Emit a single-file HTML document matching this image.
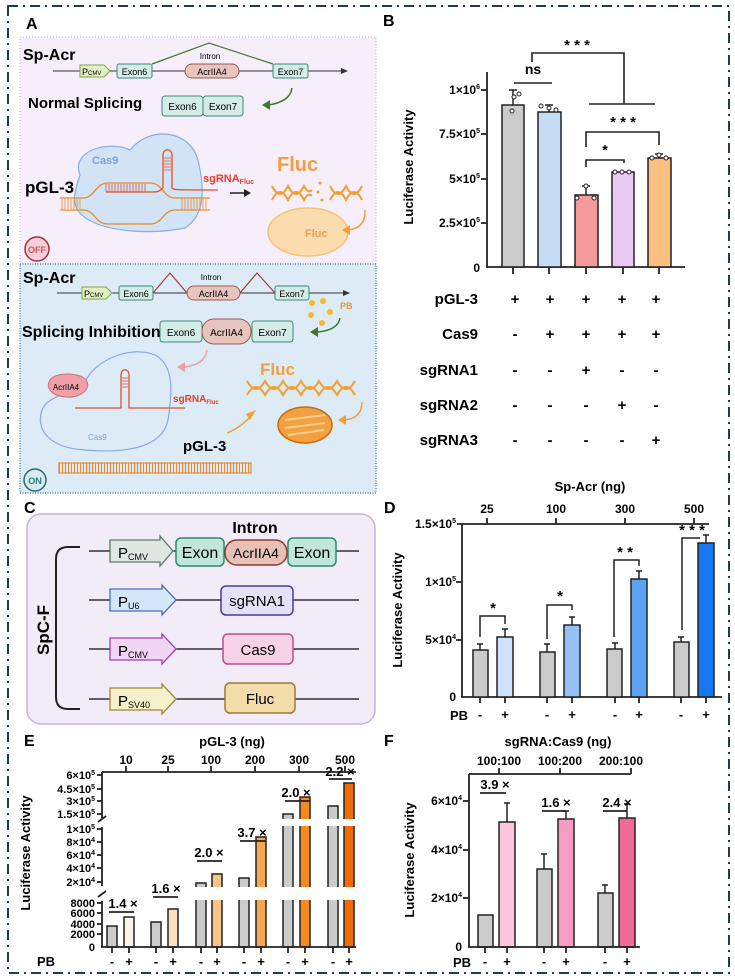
<!DOCTYPE html>
<html><head><meta charset="utf-8"><style>
body{margin:0;background:#fff}
svg{display:block;font-family:"Liberation Sans",sans-serif}
.b{font-weight:bold}
</style></head><body>
<svg width="735" height="978" viewBox="0 0 735 978" xmlns="http://www.w3.org/2000/svg">
<!-- frame -->
<rect x="8" y="6" width="721" height="967" fill="none" stroke="#1f3a5f" stroke-width="2" stroke-dasharray="10 5 2 5"/>

<!-- ===== Panel A ===== -->
<text x="26" y="29" class="b" font-size="16">A</text>
<rect x="20" y="37" width="356" height="229" fill="#f6eefa" stroke="#c9a8d8" stroke-dasharray="1 2"/>
<rect x="20" y="264" width="356" height="229" fill="#ddebf7" stroke="#3a6ea5" stroke-dasharray="1 1.5" stroke-width="1.2"/>

<text x="23" y="60" class="b" font-size="16">Sp-Acr</text>
<line x1="53" y1="71" x2="344" y2="71" stroke="#333" stroke-width="1"/>
<polygon points="348,71 341,68 341,74" fill="#333"/>
<polygon points="80,65 104,65 110,71 104,77 80,77" fill="#e2efc4" stroke="#7aa64a"/>
<text x="82" y="75" font-size="9">P<tspan font-size="6">CMV</tspan></text>
<rect x="117" y="64" width="35" height="14" rx="2" fill="#d4ece6" stroke="#3a8a7a"/><text x="134.5" y="75" font-size="9" text-anchor="middle">Exon6</text>
<rect x="185" y="64" width="54" height="14" rx="7" fill="#e8c4bf" stroke="#9a5a55"/><text x="212" y="75" font-size="9" text-anchor="middle">AcrIIA4</text>
<rect x="273" y="64" width="35" height="14" rx="2" fill="#d4ece6" stroke="#3a8a7a"/><text x="290.5" y="75" font-size="9" text-anchor="middle">Exon7</text>
<polyline points="152,64 209,43 273,64" fill="none" stroke="#4a7a2a" stroke-width="1.2"/>
<text x="210" y="59" font-size="8" text-anchor="middle">Intron</text>
<text x="28" y="108" class="b" font-size="15">Normal Splicing</text>
<rect x="162" y="96" width="41" height="20" rx="3" fill="#d4ece6" stroke="#3a8a7a"/><text x="182.5" y="110" font-size="10" text-anchor="middle">Exon6</text>
<rect x="203" y="96" width="40" height="20" rx="3" fill="#d4ece6" stroke="#3a8a7a"/><text x="223" y="110" font-size="10" text-anchor="middle">Exon7</text>
<path d="M292,88 Q290,102 268,105" fill="none" stroke="#3a7a2a" stroke-width="1.5"/><polygon points="262,105 270,100 270,110" fill="#3a7a2a"/>

<path d="M80,175 C70,150 110,140 130,150 C150,125 190,130 198,160 C205,190 205,215 185,228 C150,235 100,232 82,215 C70,205 75,190 80,175Z" fill="#cfe2f5" stroke="#7fa7d8" stroke-width="1.2" opacity="0.9"/>
<text x="92" y="164" font-size="11" fill="#7fa0d0" class="b">Cas9</text>
<text x="25" y="193" class="b" font-size="17">pGL-3</text>
<g stroke="#e8892a" stroke-width="1.3" fill="none">
<path d="M60,198 L83,198 C95,198 95,183 108,183 L150,183 C163,183 163,198 175,198 L210,198"/>
<path d="M60,210 L83,210 C95,210 95,224 108,224 L150,224 C163,224 163,210 175,210 L210,210"/>
</g>
<path d="M62,199 v10 M65,199 v10 M68,199 v10 M71,199 v10 M74,199 v10 M77,199 v10 M80,199 v10 M182,199 v10 M185,199 v10 M188,199 v10 M191,199 v10 M194,199 v10 M197,199 v10 M200,199 v10 M203,199 v10 M206,199 v10" stroke="#e8892a" stroke-width="0.8"/>
<path d="M106,184 v8 M109,184 v8 M112,184 v8 M115,184 v8 M118,184 v8 M121,184 v8 M124,184 v8 M127,184 v8 M130,184 v8 M133,184 v8 M136,184 v8 M139,184 v8 M142,184 v8 M145,184 v8" stroke="#e0502a" stroke-width="0.8"/>
<path d="M106,192 L152,192 C160,192 160,190 163,188 L163,155 C163,148 172,148 172,155 L172,188 C174,190 176,190 218,190" fill="none" stroke="#e0502a" stroke-width="1.3"/>
<path d="M164,158 h7 M164,161 h7 M164,164 h7 M164,167 h7 M164,170 h7" stroke="#e0502a" stroke-width="0.8"/>
<text x="203" y="182" font-size="11" class="b" fill="#e0402a">sgRNA<tspan font-size="7" dy="2">Fluc</tspan></text>
<line x1="230" y1="193" x2="246" y2="193" stroke="#222" stroke-width="1.5"/><polygon points="251,193 244,189 244,197" fill="#222"/>
<text x="277" y="171" font-size="20" class="b" fill="#f0a040">Fluc</text>
<g stroke="#f0a030" stroke-width="2" fill="none">
<path d="M272,186 q8,16 16,0 q8,16 16,0 q4,8 8,4"/><path d="M272,200 q8,-16 16,0 q8,-16 16,0 q4,-8 8,-4"/>
<path d="M330,186 q8,16 16,0 q8,16 16,0"/><path d="M330,200 q8,-16 16,0 q8,-16 16,0"/>
</g>
<circle cx="320" cy="183" r="1.5" fill="#e0a030"/><circle cx="318" cy="192" r="1.5" fill="#e0a030"/><circle cx="322" cy="200" r="1.5" fill="#e0a030"/>
<ellipse cx="308" cy="232" rx="40" ry="24" fill="#fbdcae" stroke="#f5c27a" stroke-width="1.5"/>
<text x="305" y="237" font-size="11" class="b" fill="#e8a050">Fluc</text>
<path d="M365,210 Q366,228 348,230" fill="none" stroke="#f0a030" stroke-width="1.5"/><polygon points="342,230 350,225 350,235" fill="#f0a030"/>
<circle cx="37" cy="249" r="12" fill="#f5d0d8" stroke="#a03040" stroke-width="1.5"/><text x="37" y="253" font-size="9" text-anchor="middle" fill="#d05060" class="b">OFF</text>

<text x="23" y="283" class="b" font-size="16">Sp-Acr</text>
<line x1="57" y1="293" x2="346" y2="293" stroke="#333"/><polygon points="350,293 343,290 343,296" fill="#333"/>
<polygon points="82,287 106,287 112,293 106,299 82,299" fill="#e2efc4" stroke="#7aa64a"/>
<text x="84" y="297" font-size="9">P<tspan font-size="6">CMV</tspan></text>
<rect x="119" y="286" width="34" height="14" rx="2" fill="#d4ece6" stroke="#3a8a7a"/><text x="136" y="297" font-size="9" text-anchor="middle">Exon6</text>
<rect x="187" y="286" width="53" height="14" rx="7" fill="#e8c4bf" stroke="#9a5a55"/><text x="213.5" y="297" font-size="9" text-anchor="middle">AcrIIA4</text>
<rect x="275" y="286" width="34" height="14" rx="2" fill="#d4ece6" stroke="#3a8a7a"/><text x="292" y="297" font-size="9" text-anchor="middle">Exon7</text>
<polyline points="153,293 170,273 187,293" fill="none" stroke="#a03a3a" stroke-width="1.2"/>
<polyline points="240,293 257,273 275,293" fill="none" stroke="#a03a3a" stroke-width="1.2"/>
<text x="211" y="280" font-size="8" text-anchor="middle">Intron</text>
<g fill="#f7b82a"><circle cx="312" cy="303" r="3"/><circle cx="323" cy="301" r="3"/><circle cx="311" cy="315" r="3"/><circle cx="330" cy="312" r="3"/><circle cx="322" cy="323" r="3"/></g>
<text x="340" y="309" font-size="9" class="b" fill="#f0902a">PB</text>
<text x="22" y="337" class="b" font-size="16">Splicing Inhibition</text>
<rect x="160" y="321" width="42" height="21" rx="3" fill="#d4ece6" stroke="#3a8a7a"/><text x="181" y="336" font-size="10" text-anchor="middle">Exon6</text>
<rect x="202" y="319" width="49" height="25" rx="12" fill="#e8c4bf" stroke="#9a5a55"/><text x="226.5" y="336" font-size="10" text-anchor="middle">AcrIIA4</text>
<rect x="252" y="321" width="41" height="21" rx="3" fill="#d4ece6" stroke="#3a8a7a"/><text x="272.5" y="336" font-size="10" text-anchor="middle">Exon7</text>
<path d="M340,318 Q338,330 318,332" fill="none" stroke="#3a7a2a" stroke-width="1.5"/><polygon points="310,332 318,327 318,337" fill="#3a7a2a"/>
<path d="M207,350 Q205,365 184,367" fill="none" stroke="#f0a0a0" stroke-width="1.5"/><polygon points="177,367 185,362 185,372" fill="#f0a0a0"/>
<path d="M85,382 C95,360 130,345 155,355 C175,365 172,395 168,420 C162,450 120,453 85,450 C50,448 35,430 42,410 C48,395 70,395 85,382Z" fill="none" stroke="#8aa8e0" stroke-width="1.2"/>
<text x="88" y="440" font-size="8" fill="#7fa0d0">Cas9</text>
<path d="M50,380 C55,372 80,372 86,380 C92,388 82,398 66,397 C52,396 45,388 50,380Z" fill="#f0a0a8" stroke="#d07078"/>
<text x="66" y="390" font-size="8" text-anchor="middle">AcrIIA4</text>
<path d="M75,408 L121,408 L121,375 C121,368 129,368 129,375 L129,408 L185,408" fill="none" stroke="#e0502a" stroke-width="1.3"/>
<path d="M122,378 h6 M122,381 h6 M122,384 h6 M122,387 h6" stroke="#e0502a" stroke-width="0.8"/>
<text x="173" y="402" font-size="10" class="b" fill="#e0402a">sgRNA<tspan font-size="6" dy="2">Fluc</tspan></text>
<text x="260" y="375" font-size="17" class="b" fill="#f0a040">Fluc</text>
<g stroke="#f0a030" stroke-width="2" fill="none">
<path d="M247,381 q9,16 18,0 q9,16 18,0 q9,16 18,0 q9,16 18,0 q9,16 18,0 q9,16 18,0"/>
<path d="M247,395 q9,-16 18,0 q9,-16 18,0 q9,-16 18,0 q9,-16 18,0 q9,-16 18,0 q9,-16 18,0"/>
</g>
<ellipse cx="305" cy="425" rx="27" ry="18" fill="#f2a040" stroke="#c86a10" stroke-width="1.5"/>
<path d="M285,420 l40,-5 M285,428 l40,-5 M288,435 l36,-5" stroke="#fbd08a" stroke-width="2"/>
<path d="M227,433 Q240,428 252,415" fill="none" stroke="#f0a030" stroke-width="1.5"/><polygon points="256,410 250,420 246,414" fill="#f0a030"/>
<path d="M362,402 Q362,418 345,420" fill="none" stroke="#f0a030" stroke-width="1.5"/><polygon points="338,420 346,415 346,425" fill="#f0a030"/>
<text x="183" y="451" class="b" font-size="15">pGL-3</text>
<rect x="59" y="463" width="192" height="10" fill="none" stroke="#e8892a" stroke-width="1.2"/>
<path d="M59,468 H251" stroke="#e8892a" stroke-width="9" stroke-dasharray="1 2" fill="none"/>
<circle cx="35" cy="480" r="11" fill="#d8ecf0" stroke="#2a6a70" stroke-width="1.5"/><text x="35" y="484" font-size="9" text-anchor="middle" fill="#2a7a80" class="b">ON</text>

<!-- ===== Panel B ===== -->
<text x="383" y="26" class="b" font-size="16">B</text>
<text transform="translate(413,167) rotate(-90)" text-anchor="middle" class="b" font-size="13">Luciferase Activity</text>
<g stroke="#222" stroke-width="1.8">
<line x1="487" y1="72" x2="487" y2="267"/><line x1="486" y1="267" x2="685" y2="267"/>
<line x1="481" y1="90" x2="487" y2="90"/><line x1="481" y1="134" x2="487" y2="134"/><line x1="481" y1="179" x2="487" y2="179"/><line x1="481" y1="223" x2="487" y2="223"/>
<line x1="513" y1="267" x2="513" y2="274"/><line x1="549" y1="267" x2="549" y2="274"/><line x1="586" y1="267" x2="586" y2="274"/><line x1="623" y1="267" x2="623" y2="274"/><line x1="659" y1="267" x2="659" y2="274"/>
</g>
<g class="b" font-size="12" text-anchor="end">
<text x="480" y="94">1×10<tspan font-size="7" dy="-5">6</tspan></text>
<text x="480" y="138">7.5×10<tspan font-size="7" dy="-5">5</tspan></text>
<text x="480" y="183">5×10<tspan font-size="7" dy="-5">5</tspan></text>
<text x="480" y="227">2.5×10<tspan font-size="7" dy="-5">5</tspan></text>
<text x="480" y="272">0</text>
</g>
<g stroke="#222" stroke-width="1.5">
<rect x="502" y="105" width="22" height="162" fill="#cbcbcb"/>
<rect x="538" y="112" width="23" height="155" fill="#c4dcf5"/>
<rect x="575" y="195" width="23" height="72" fill="#f59a9a"/>
<rect x="612" y="172" width="22" height="95" fill="#ecc8f5"/>
<rect x="648" y="158" width="23" height="109" fill="#fbc080"/>
<path d="M513,105 V90 M509,90 H517 M549,112 V105 M545,105 H553 M586,195 V186 M582,186 H590 M623,172 V171 M659,158 V154 M655,154 H663" fill="none"/>
</g>
<g fill="#fff" stroke="#222" stroke-width="1">
<circle cx="512" cy="111" r="2"/><circle cx="514" cy="97" r="2"/><circle cx="519" cy="94" r="2"/>
<circle cx="541" cy="106" r="2"/><circle cx="549" cy="108" r="2"/><circle cx="556" cy="110" r="2"/>
<circle cx="577" cy="198" r="2"/><circle cx="586" cy="186" r="2"/><circle cx="594" cy="198" r="2"/>
<circle cx="615" cy="172" r="2"/><circle cx="622" cy="172" r="2"/><circle cx="629" cy="172" r="2"/>
<circle cx="652" cy="158" r="2"/><circle cx="659" cy="155" r="2"/><circle cx="666" cy="158" r="2"/>
</g>
<g stroke="#222" stroke-width="1.6" fill="none">
<line x1="514" y1="83" x2="552" y2="83"/>
<path d="M532,62 V53 H624 V104"/><line x1="589" y1="104" x2="655" y2="104"/>
<path d="M586,147 V132 H659 V145"/>
<path d="M586,167 V160 H624 V163"/>
</g>
<text x="533" y="74" class="b" font-size="14" text-anchor="middle">ns</text>
<text x="577" y="50" class="b" font-size="15" text-anchor="middle">* * *</text>
<text x="623" y="127" class="b" font-size="15" text-anchor="middle">* * *</text>
<text x="605" y="155" class="b" font-size="15" text-anchor="middle">*</text>
<g class="b" font-size="15">
<text x="478" y="304" text-anchor="end">pGL-3</text><text x="478" y="339" text-anchor="end">Cas9</text><text x="478" y="375" text-anchor="end">sgRNA1</text><text x="478" y="410" text-anchor="end">sgRNA2</text><text x="478" y="445" text-anchor="end">sgRNA3</text>
</g>
<g class="b" font-size="15" text-anchor="middle">
<text x="515" y="304">+</text><text x="550" y="304">+</text><text x="586" y="304">+</text><text x="622" y="304">+</text><text x="656" y="304">+</text>
<text x="515" y="339">-</text><text x="550" y="339">+</text><text x="586" y="339">+</text><text x="622" y="339">+</text><text x="656" y="339">+</text>
<text x="515" y="375">-</text><text x="550" y="375">-</text><text x="586" y="375">+</text><text x="622" y="375">-</text><text x="656" y="375">-</text>
<text x="515" y="410">-</text><text x="550" y="410">-</text><text x="586" y="410">-</text><text x="622" y="410">+</text><text x="656" y="410">-</text>
<text x="515" y="445">-</text><text x="550" y="445">-</text><text x="586" y="445">-</text><text x="622" y="445">-</text><text x="656" y="445">+</text>
</g>

<!-- ===== Panel C ===== -->
<text x="24" y="513" class="b" font-size="16">C</text>
<rect x="27" y="514" width="348" height="210" rx="14" fill="#f1ecf8" stroke="#c2b4e0" stroke-width="1.5"/>
<path d="M80,547 H68 Q56,547 56,559 V697 Q56,709 68,709 H80" fill="none" stroke="#222" stroke-width="2"/>
<text transform="translate(49,630) rotate(-90)" text-anchor="middle" class="b" font-size="17">SpC-F</text>
<g stroke="#333" stroke-width="1.5"><line x1="89" y1="551" x2="359" y2="551"/><line x1="89" y1="600" x2="359" y2="600"/><line x1="89" y1="649" x2="359" y2="649"/><line x1="89" y1="699" x2="359" y2="699"/></g>
<text x="255" y="533" class="b" font-size="16" text-anchor="middle">Intron</text>
<polygon points="110,540 160,540 160,536 173,551 160,566 160,562 110,562" fill="#dfe9e2" stroke="#5a7a68" stroke-width="1.3"/>
<text x="118" y="558" font-size="15">P<tspan font-size="9" dy="2">CMV</tspan></text>
<rect x="176" y="538" width="48" height="28" rx="5" fill="#bfe6d8" stroke="#2e8a70" stroke-width="1.5"/><text x="200" y="558" font-size="16" text-anchor="middle">Exon</text>
<rect x="225" y="540" width="62" height="25" rx="12" fill="#e8c0b6" stroke="#8a3a30" stroke-width="1.5"/><text x="256" y="558" font-size="14" text-anchor="middle">AcrIIA4</text>
<rect x="288" y="538" width="48" height="28" rx="5" fill="#bfe6d8" stroke="#2e8a70" stroke-width="1.5"/><text x="312" y="558" font-size="16" text-anchor="middle">Exon</text>
<polygon points="110,589 162,589 162,585 176,600 162,615 162,611 110,611" fill="#d6e6fa" stroke="#4a70b8" stroke-width="1.3"/>
<text x="118" y="607" font-size="15">P<tspan font-size="9" dy="2">U6</tspan></text>
<rect x="221" y="586" width="72" height="29" rx="5" fill="#e4e0f6" stroke="#4a3a9a" stroke-width="1.5"/><text x="257" y="606" font-size="15" text-anchor="middle">sgRNA1</text>
<polygon points="110,638 162,638 162,634 176,649 162,664 162,660 110,660" fill="#f0d6f4" stroke="#a040b0" stroke-width="1.3"/>
<text x="118" y="656" font-size="15">P<tspan font-size="9" dy="2">CMV</tspan></text>
<rect x="223" y="634" width="70" height="30" rx="5" fill="#f7d2e6" stroke="#c04a88" stroke-width="1.5"/><text x="258" y="655" font-size="15" text-anchor="middle">Cas9</text>
<polygon points="110,688 162,688 162,684 176,699 162,714 162,710 110,710" fill="#f6f0cc" stroke="#9a8a2a" stroke-width="1.3"/>
<text x="118" y="706" font-size="15">P<tspan font-size="9" dy="2">SV40</tspan></text>
<rect x="225" y="683" width="70" height="30" rx="5" fill="#f2dcaa" stroke="#a07a30" stroke-width="1.5"/><text x="260" y="704" font-size="15" text-anchor="middle">Fluc</text>

<!-- ===== Panel D ===== -->
<text x="384" y="513" class="b" font-size="16">D</text>
<text x="590" y="491" class="b" font-size="13" text-anchor="middle">Sp-Acr (ng)</text>
<g class="b" font-size="12" text-anchor="middle"><text x="487" y="513">25</text><text x="556" y="513">100</text><text x="625" y="513">300</text><text x="694" y="513">500</text></g>
<text transform="translate(402,610) rotate(-90)" text-anchor="middle" class="b" font-size="13">Luciferase Activity</text>
<g stroke="#222" stroke-width="1.8">
<line x1="462" y1="524" x2="462" y2="697"/><line x1="457" y1="524" x2="709" y2="524"/><line x1="461" y1="697" x2="722" y2="697"/>
<line x1="487" y1="518" x2="487" y2="524"/><line x1="556" y1="518" x2="556" y2="524"/><line x1="625" y1="518" x2="625" y2="524"/><line x1="694" y1="518" x2="694" y2="524"/>
<line x1="456" y1="582" x2="462" y2="582"/><line x1="456" y1="640" x2="462" y2="640"/>
<line x1="480" y1="697" x2="480" y2="703"/><line x1="505" y1="697" x2="505" y2="703"/><line x1="547" y1="697" x2="547" y2="703"/><line x1="572" y1="697" x2="572" y2="703"/><line x1="615" y1="697" x2="615" y2="703"/><line x1="639" y1="697" x2="639" y2="703"/><line x1="681" y1="697" x2="681" y2="703"/><line x1="706" y1="697" x2="706" y2="703"/>
</g>
<g class="b" font-size="12" text-anchor="end">
<text x="456" y="528">1.5×10<tspan font-size="7" dy="-5">5</tspan></text>
<text x="456" y="586">1×10<tspan font-size="7" dy="-5">5</tspan></text>
<text x="456" y="644">5×10<tspan font-size="7" dy="-5">4</tspan></text>
<text x="456" y="701">0</text>
</g>
<g stroke="#222" stroke-width="1.5">
<rect x="473" y="650" width="15" height="47" fill="#cbcbcb"/><rect x="497" y="637" width="16" height="60" fill="#cfe2fb"/>
<rect x="540" y="652" width="15" height="45" fill="#cbcbcb"/><rect x="564" y="625" width="16" height="72" fill="#94c2f7"/>
<rect x="607" y="649" width="15" height="48" fill="#cbcbcb"/><rect x="631" y="579" width="16" height="118" fill="#5aa2f2"/>
<rect x="674" y="642" width="15" height="55" fill="#cbcbcb"/><rect x="698" y="543" width="16" height="154" fill="#1479f0"/>
<path d="M480,650 V644 M477,644 H483 M505,637 V629 M502,629 H508 M547,652 V644 M544,644 H550 M572,625 V617 M569,617 H575 M615,649 V643 M612,643 H618 M639,579 V571 M636,571 H642 M681,642 V637 M678,637 H684 M706,543 V535 M703,535 H709" fill="none"/>
<path d="M480,637 V616 H505 V624" fill="none"/>
<path d="M547,639 V605 H572 V610" fill="none"/>
<path d="M614,637 V560 H639 V566" fill="none"/>
<path d="M682,630 V538 H700" fill="none"/>
</g>
<g class="b" font-size="15" text-anchor="middle"><text x="493" y="613">*</text><text x="560" y="601">*</text><text x="625" y="557">* *</text><text x="692" y="535">* * *</text></g>
<g class="b" font-size="13" text-anchor="middle"><text x="459" y="720">PB</text><text x="480" y="719">-</text><text x="505" y="719">+</text><text x="547" y="719">-</text><text x="572" y="719">+</text><text x="615" y="719">-</text><text x="639" y="719">+</text><text x="681" y="719">-</text><text x="706" y="719">+</text></g>

<!-- ===== Panel E ===== -->
<text x="24" y="746" class="b" font-size="16">E</text>
<text x="232" y="746" class="b" font-size="13" text-anchor="middle">pGL-3 (ng)</text>
<g class="b" font-size="12" text-anchor="middle"><text x="126" y="764">10</text><text x="168" y="764">25</text><text x="211" y="764">100</text><text x="255" y="764">200</text><text x="299" y="764">300</text><text x="345" y="764">500</text></g>
<text transform="translate(30,853) rotate(-90)" text-anchor="middle" class="b" font-size="13">Luciferase Activity</text>
<g stroke="#222" stroke-width="1.5">
<rect x="107" y="926" width="10" height="21" fill="#cbcbcb"/><rect x="124" y="917" width="10" height="30" fill="#fdf3e6"/>
<rect x="151" y="922" width="10" height="25" fill="#cbcbcb"/><rect x="168" y="909" width="10" height="38" fill="#fbe0c0"/>
<rect x="196" y="883" width="10" height="64" fill="#cbcbcb"/><rect x="212" y="874" width="10" height="73" fill="#f9c48a"/>
<rect x="239" y="878" width="10" height="69" fill="#cbcbcb"/><rect x="256" y="837" width="10" height="110" fill="#f7a550"/>
<rect x="283" y="814" width="10" height="133" fill="#cbcbcb"/><rect x="300" y="797" width="10" height="150" fill="#f58a1f"/>
<rect x="328" y="806" width="10" height="141" fill="#cbcbcb"/><rect x="344" y="783" width="10" height="164" fill="#f06a0a"/>
</g>
<rect x="98" y="819" width="262" height="7" fill="#fff"/>
<rect x="98" y="887" width="262" height="13" fill="#fff"/>
<g stroke="#222" stroke-width="1.8">
<line x1="102" y1="772" x2="102" y2="818"/><line x1="102" y1="827" x2="102" y2="886"/><line x1="102" y1="901" x2="102" y2="947"/>
<line x1="102" y1="772" x2="356" y2="772"/><line x1="101" y1="947" x2="356" y2="947"/>
<line x1="98" y1="822" x2="106" y2="816"/><line x1="98" y1="897" x2="106" y2="891"/>
<line x1="126" y1="766" x2="126" y2="772"/><line x1="168" y1="766" x2="168" y2="772"/><line x1="211" y1="766" x2="211" y2="772"/><line x1="255" y1="766" x2="255" y2="772"/><line x1="299" y1="766" x2="299" y2="772"/><line x1="345" y1="766" x2="345" y2="772"/>
<line x1="112" y1="947" x2="112" y2="953"/><line x1="129" y1="947" x2="129" y2="953"/><line x1="156" y1="947" x2="156" y2="953"/><line x1="173" y1="947" x2="173" y2="953"/><line x1="201" y1="947" x2="201" y2="953"/><line x1="217" y1="947" x2="217" y2="953"/><line x1="244" y1="947" x2="244" y2="953"/><line x1="261" y1="947" x2="261" y2="953"/><line x1="288" y1="947" x2="288" y2="953"/><line x1="305" y1="947" x2="305" y2="953"/><line x1="333" y1="947" x2="333" y2="953"/><line x1="349" y1="947" x2="349" y2="953"/>
<line x1="97" y1="775" x2="102" y2="775"/><line x1="97" y1="789" x2="102" y2="789"/><line x1="97" y1="801" x2="102" y2="801"/><line x1="97" y1="814" x2="102" y2="814"/>
<line x1="97" y1="829" x2="102" y2="829"/><line x1="97" y1="842" x2="102" y2="842"/><line x1="97" y1="855" x2="102" y2="855"/><line x1="97" y1="868" x2="102" y2="868"/><line x1="97" y1="882" x2="102" y2="882"/>
<line x1="97" y1="903" x2="102" y2="903"/><line x1="97" y1="913" x2="102" y2="913"/><line x1="97" y1="924" x2="102" y2="924"/><line x1="97" y1="934" x2="102" y2="934"/>
<line x1="109" y1="912" x2="134" y2="912"/><line x1="153" y1="897" x2="178" y2="897"/><line x1="197" y1="861" x2="222" y2="861"/><line x1="240" y1="841" x2="266" y2="841"/><line x1="285" y1="801" x2="310" y2="801"/><line x1="329" y1="779" x2="352" y2="779"/>
</g>
<g class="b" font-size="11" text-anchor="end">
<text x="95" y="779">6×10<tspan font-size="7" dy="-4">5</tspan></text>
<text x="95" y="793">4.5×10<tspan font-size="7" dy="-4">5</tspan></text>
<text x="95" y="805">3×10<tspan font-size="7" dy="-4">5</tspan></text>
<text x="95" y="818">1.5×10<tspan font-size="7" dy="-4">5</tspan></text>
<text x="95" y="833">1×10<tspan font-size="7" dy="-4">5</tspan></text>
<text x="95" y="846">8×10<tspan font-size="7" dy="-4">4</tspan></text>
<text x="95" y="859">6×10<tspan font-size="7" dy="-4">4</tspan></text>
<text x="95" y="872">4×10<tspan font-size="7" dy="-4">4</tspan></text>
<text x="95" y="886">2×10<tspan font-size="7" dy="-4">4</tspan></text>
<text x="95" y="907">8000</text><text x="95" y="917">6000</text><text x="95" y="928">4000</text><text x="95" y="938">2000</text><text x="95" y="951">0</text>
</g>
<g class="b" font-size="13" text-anchor="middle">
<text x="123" y="908">1.4 ×</text><text x="166" y="893">1.6 ×</text><text x="209" y="857">2.0 ×</text><text x="252" y="837">3.7 ×</text><text x="296" y="797">2.0 ×</text><text x="340" y="776">2.2 ×</text>
</g>
<g class="b" font-size="13" text-anchor="middle"><text x="46" y="966">PB</text><text x="112" y="966">-</text><text x="129" y="966">+</text><text x="156" y="966">-</text><text x="173" y="966">+</text><text x="201" y="966">-</text><text x="217" y="966">+</text><text x="244" y="966">-</text><text x="261" y="966">+</text><text x="288" y="966">-</text><text x="305" y="966">+</text><text x="333" y="966">-</text><text x="349" y="966">+</text></g>

<!-- ===== Panel F ===== -->
<text x="384" y="746" class="b" font-size="16">F</text>
<text x="558" y="746" class="b" font-size="13" text-anchor="middle">sgRNA:Cas9 (ng)</text>
<g class="b" font-size="12" text-anchor="middle"><text x="499" y="765">100:100</text><text x="560" y="765">100:200</text><text x="621" y="765">200:100</text></g>
<text transform="translate(414,860) rotate(-90)" text-anchor="middle" class="b" font-size="13">Luciferase Activity</text>
<g stroke="#222" stroke-width="1.5">
<rect x="478" y="915" width="15" height="32" fill="#cbcbcb"/><rect x="499" y="822" width="16" height="125" fill="#fbc6de"/>
<rect x="537" y="869" width="15" height="78" fill="#cbcbcb"/><rect x="558" y="819" width="16" height="128" fill="#f79cc4"/>
<rect x="598" y="893" width="15" height="54" fill="#cbcbcb"/><rect x="619" y="818" width="16" height="129" fill="#f06a98"/>
<path d="M507,822 V803 M504,803 H510 M544,869 V854 M541,854 H547 M566,819 V811 M563,811 H569 M605,893 V885 M602,885 H608 M627,818 V804 M624,804 H630" fill="none"/>
</g>
<g stroke="#222" stroke-width="1.8">
<line x1="469" y1="774" x2="469" y2="947"/><line x1="469" y1="774" x2="631" y2="774"/><line x1="468" y1="947" x2="640" y2="947"/>
<line x1="499" y1="768" x2="499" y2="774"/><line x1="560" y1="768" x2="560" y2="774"/><line x1="631" y1="768" x2="631" y2="774"/>
<line x1="463" y1="801" x2="469" y2="801"/><line x1="463" y1="850" x2="469" y2="850"/><line x1="463" y1="898" x2="469" y2="898"/>
<line x1="485" y1="947" x2="485" y2="953"/><line x1="507" y1="947" x2="507" y2="953"/><line x1="544" y1="947" x2="544" y2="953"/><line x1="566" y1="947" x2="566" y2="953"/><line x1="605" y1="947" x2="605" y2="953"/><line x1="627" y1="947" x2="627" y2="953"/>
<line x1="480" y1="793" x2="506" y2="793"/><line x1="542" y1="811" x2="566" y2="811"/><line x1="603" y1="811" x2="627" y2="811"/>
</g>
<g class="b" font-size="12" text-anchor="end">
<text x="462" y="805">6×10<tspan font-size="7" dy="-5">4</tspan></text>
<text x="462" y="854">4×10<tspan font-size="7" dy="-5">4</tspan></text>
<text x="462" y="902">2×10<tspan font-size="7" dy="-5">4</tspan></text>
<text x="462" y="951">0</text>
</g>
<g class="b" font-size="13" text-anchor="middle"><text x="495" y="789">3.9 ×</text><text x="556" y="807">1.6 ×</text><text x="617" y="807">2.4 ×</text></g>
<g class="b" font-size="13" text-anchor="middle"><text x="462" y="967">PB</text><text x="485" y="966">-</text><text x="507" y="966">+</text><text x="544" y="966">-</text><text x="566" y="966">+</text><text x="605" y="966">-</text><text x="627" y="966">+</text></g>
</svg>
</body></html>
